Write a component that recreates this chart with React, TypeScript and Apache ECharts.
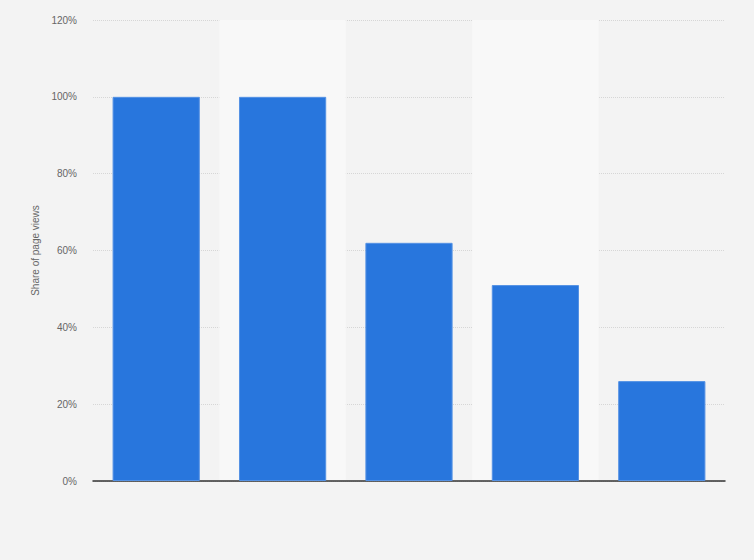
import React, { useEffect, useRef } from "react";
import * as echarts from "echarts";

const categories = ["1", "2", "3", "4", "5"];
const shareValues = [100, 100, 62, 51, 26];
const yTicks = { min: 0, max: 120, interval: 20 };
const yAxisTitle = "Share of page views";

export default function App() {
  const ref = useRef<HTMLDivElement>(null);
  useEffect(() => {
    document.body.style.margin = "0";
    const chart = echarts.init(ref.current!, null, { renderer: "svg" });
    chart.setOption({
      animation: false,
      backgroundColor: "#f3f3f3",
      grid: { left: 93, right: 29, top: 20, bottom: 79, containLabel: false },
      xAxis: {
        type: "category",
        data: categories,
        axisLine: { show: true, lineStyle: { color: "#333", width: 1.5 } },
        axisTick: { show: false },
        axisLabel: { show: false },
        splitLine: { show: false },
        splitArea: { show: true, areaStyle: { color: ["rgba(0,0,0,0)", "#f8f8f8"] } },
      },
      yAxis: {
        type: "value",
        min: yTicks.min,
        max: yTicks.max,
        interval: yTicks.interval,
        name: yAxisTitle,
        nameLocation: "middle",
        nameGap: 48,
        nameTextStyle: { color: "#666", fontSize: 10, fontFamily: "Liberation Sans, Arial, sans-serif" },
        axisLine: { show: false },
        axisTick: { show: false },
        axisLabel: {
          formatter: "{value}%",
          color: "#666",
          fontSize: 10,
          margin: 16,
          fontFamily: "Liberation Sans, Arial, sans-serif",
        },
        splitLine: { show: true, lineStyle: { color: "#d6d6d6", type: "dotted", width: 1 } },
      },
      series: [
        {
          type: "bar",
          data: shareValues,
          barWidth: "69%",
          itemStyle: { color: "#2876dd", borderColor: "#5592e4", borderWidth: 1 },
        },
      ],
    });
    return () => chart.dispose();
  }, []);
  return <div ref={ref} style={{ width: 754, height: 560 }} />;
}
